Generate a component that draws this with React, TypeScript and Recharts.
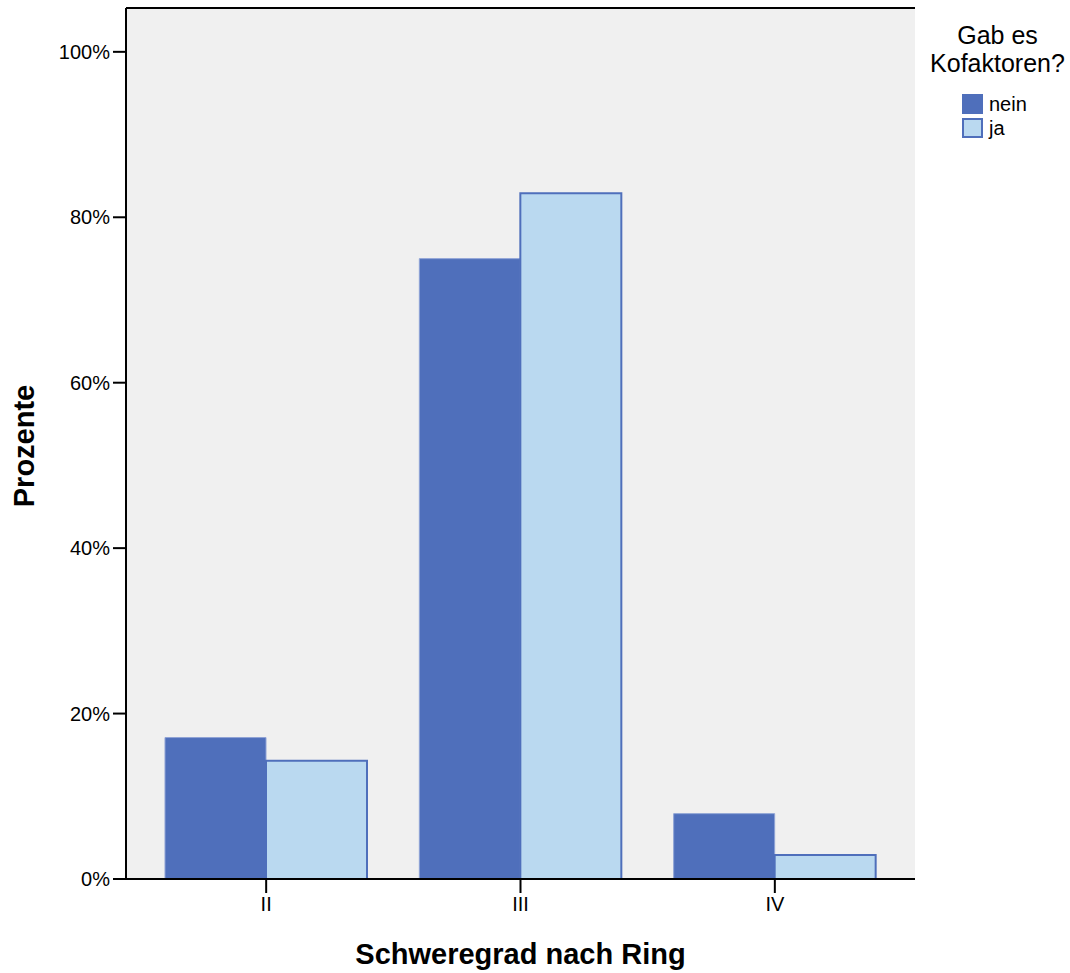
import { Bar, BarChart, XAxis, YAxis, CartesianGrid, Legend, ReferenceLine } from "recharts"

const categories = ["II", "III", "IV"]
const nein = [17.1, 75.0, 7.9]
const ja = [14.3, 82.9, 2.9]
const yTicks = [0, 20, 40, 60, 80, 100]
const yMax = 105.3

const data = categories.map((c, i) => ({ grad: c, nein: nein[i], ja: ja[i] }))

const FONT = "'Liberation Sans', Arial, sans-serif"
const DARK = "#4f6fbb"
const LIGHT = "#bad9f0"

function LegendBox() {
  return (
    <div style={{ fontFamily: FONT, color: "#000" }}>
      <div style={{ fontSize: 25, lineHeight: "28px", textAlign: "center" }}>
        Gab es
        <br />
        Kofaktoren?
      </div>
      <div style={{ marginTop: 15, marginLeft: 37 }}>
        {[
          { label: "nein", fill: DARK, stroke: DARK },
          { label: "ja", fill: LIGHT, stroke: DARK },
        ].map((it) => (
          <div key={it.label} style={{ display: "flex", alignItems: "center", height: 24, fontSize: 20 }}>
            <span
              style={{
                display: "inline-block",
                width: 17,
                height: 16,
                background: it.fill,
                border: `2px solid ${it.stroke}`,
                marginRight: 6,
              }}
            />
            {it.label}
          </div>
        ))}
      </div>
    </div>
  )
}

export default function App() {
  return (
    <div style={{ position: "absolute", left: 0, top: 0 }}>
      <BarChart
        width={1070}
        height={973}
        data={data}
        margin={{ top: 8, right: 155, bottom: 0, left: 0 }}
        barGap={0}
        barCategoryGap={26}
      >
        <CartesianGrid fill="#f0f0f0" horizontal={false} vertical={false} />
        <XAxis
          dataKey="grad"
          height={94}
          padding={{ left: 13, right: 13 }}
          stroke="#000"
          strokeWidth={2}
          tickSize={14}
          tickMargin={4}
          tick={{ fill: "#000", fontSize: 20, fontFamily: FONT }}
          label={(props: any) => {
            const vb = props.viewBox
            return (
              <text
                x={vb.x + vb.width / 2}
                y={964}
                textAnchor="middle"
                fontFamily={FONT}
                fontSize={29}
                fontWeight="bold"
                fill="#000"
              >
                Schweregrad nach Ring
              </text>
            )
          }}
        />
        <YAxis
          width={126}
          domain={[0, yMax]}
          ticks={yTicks}
          allowDataOverflow
          stroke="#000"
          strokeWidth={2}
          tickSize={13}
          tickMargin={3}
          tickFormatter={(v) => `${v}%`}
          tick={{ fill: "#000", fontSize: 20, fontFamily: FONT }}
          label={() => (
            <text
              x={34}
              y={446}
              transform="rotate(-90, 34, 446)"
              textAnchor="middle"
              fontFamily={FONT}
              fontSize={29}
              fontWeight="bold"
              fill="#000"
            >
              Prozente
            </text>
          )}
        />
        <YAxis yAxisId="right" orientation="right" width={0} domain={[0, yMax]} tick={false} tickLine={false} stroke="#000" strokeWidth={2} />
        <ReferenceLine y={yMax} stroke="#000" strokeWidth={2} />
        <Legend
          layout="horizontal"
          verticalAlign="middle"
          align="center"
          content={() => <LegendBox />}
          wrapperStyle={{ position: "absolute", left: 925, top: 21, width: 145, height: 130 }}
        />
        <Bar dataKey="nein" name="nein" fill={DARK} stroke="#8fa3d6" strokeWidth={1} isAnimationActive={false} />
        <Bar dataKey="ja" name="ja" fill={LIGHT} stroke={DARK} strokeWidth={2} isAnimationActive={false} />
      </BarChart>
    </div>
  )
}
